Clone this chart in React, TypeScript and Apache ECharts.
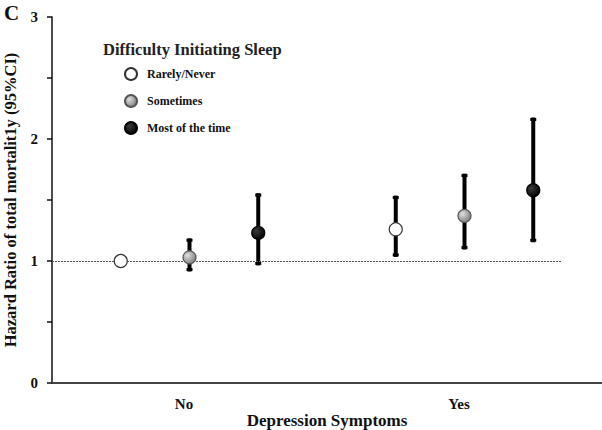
import React, { useEffect, useRef } from "react";
import * as echarts from "echarts";

const depression = ["No", "Yes"];
const sleepGroups = ["Rarely/Never", "Sometimes", "Most of the time"];
// hazard ratios per sleep group, [No, Yes]
const hrRarely = [1.0, 1.26];
const hrSometimes = [1.03, 1.37];
const hrMost = [1.23, 1.58];
const lowRarely = [null, 1.05];
const lowSometimes = [0.93, 1.11];
const lowMost = [0.98, 1.17];
const highRarely = [null, 1.52];
const highSometimes = [1.17, 1.7];
const highMost = [1.54, 2.16];
const yTicks = [0, 1, 2, 3];

const FONT = "'Liberation Serif', 'Times New Roman', serif";

export default function App() {
  const ref = useRef<HTMLDivElement>(null);
  useEffect(() => {
    if (!ref.current) return;
    const chart = echarts.init(ref.current, undefined, { renderer: "svg" });
    const hrs = [hrRarely, hrSometimes, hrMost];
    const lows = [lowRarely, lowSometimes, lowMost];
    const highs = [highRarely, highSometimes, highMost];
    const pos = (g: number, s: number) => g * 4 + s;

    const errData: any[] = [];
    depression.forEach((_, g) => {
      sleepGroups.forEach((_, s) => {
        const lo = lows[s][g];
        const hi = highs[s][g];
        if (lo != null && hi != null) errData.push([pos(g, s), lo, hi]);
      });
    });

    const fills: any[] = [
      "#ffffff",
      new echarts.graphic.RadialGradient(0.35, 0.35, 0.75, [
        { offset: 0, color: "#dedede" },
        { offset: 1, color: "#777777" },
      ]),
      new echarts.graphic.RadialGradient(0.35, 0.35, 0.75, [
        { offset: 0, color: "#3a3a3a" },
        { offset: 1, color: "#000000" },
      ]),
    ];
    const borders = ["#333333", "#555555", "#000000"];

    const scatterSeries = sleepGroups.map((name, s) => ({
      name,
      type: "scatter",
      symbol: "circle",
      symbolSize: 13,
      z: 5,
      itemStyle: { color: fills[s], borderColor: borders[s], borderWidth: 1.2, opacity: 1 },
      data: depression.map((_, g) => [pos(g, s), hrs[s][g]]),
    }));

    chart.setOption({
      animation: false,
      textStyle: { fontFamily: FONT },
      grid: {
        left: 52,
        top: 17,
        right: 0,
        bottom: 47,
        containLabel: false,
        outerBoundsMode: "none",
      },
      title: [
        {
          text: "C",
          left: -1,
          top: -3,
          textStyle: { fontFamily: FONT, fontWeight: "bold", fontSize: 21, color: "#111" },
        },
        {
          text: "Difficulty Initiating Sleep",
          left: 98,
          top: 36,
          textStyle: { fontFamily: FONT, fontWeight: "bold", fontSize: 16.5, color: "#222" },
        },
      ],
      legend: {
        data: sleepGroups,
        orient: "vertical",
        left: 119,
        top: 62,
        itemWidth: 12,
        itemHeight: 12,
        itemGap: 13,
        icon: "circle",
        textStyle: { fontFamily: FONT, fontWeight: "bold", fontSize: 12, color: "#111", padding: [0, 0, 0, 5] },
      },
      xAxis: {
        type: "value",
        min: -1,
        max: 7,
        interval: 1,
        name: "Depression Symptoms",
        nameLocation: "middle",
        nameGap: 29,
        nameMoveOverlap: false,
        nameTextStyle: { fontFamily: FONT, fontWeight: "bold", fontSize: 17, color: "#111" },
        axisLine: { show: true, onZero: false, lineStyle: { color: "#444", width: 2 } },
        axisTick: { show: false },
        splitLine: { show: false },
        axisLabel: {
          margin: 13,
          fontFamily: FONT,
          fontWeight: "bold",
          fontSize: 15,
          color: "#111",
          padding: [0, 11, 0, 0],
          formatter: (v: number) => {
            const g = (v - 1) / 4;
            return Number.isInteger(g) && depression[g] ? depression[g] : "";
          },
        },
      },
      yAxis: {
        type: "value",
        min: 0,
        max: 3,
        interval: 0.5,
        name: "Hazard Ratio of total mortalit1y (95%CI)",
        nameLocation: "middle",
        nameGap: 33,
        nameMoveOverlap: false,
        nameRotate: 90,
        nameTextStyle: { fontFamily: FONT, fontWeight: "bold", fontSize: 16.5, color: "#111" },
        axisLine: { show: true, onZero: false, lineStyle: { color: "#111", width: 1.5 } },
        axisTick: { show: true, length: 5, lineStyle: { color: "#111", width: 1.5 } },
        splitLine: { show: false },
        axisLabel: {
          margin: 14,
          fontFamily: FONT,
          fontWeight: "bold",
          fontSize: 15,
          color: "#111",
          formatter: (v: number) => (yTicks.includes(v) ? String(v) : ""),
        },
      },
      series: [
        {
          name: "CI",
          type: "custom",
          z: 3,
          renderItem: (params: any, api: any) => {
            const x = api.value(0);
            const lo = api.coord([x, api.value(1)]);
            const hi = api.coord([x, api.value(2)]);
            return {
              type: "group",
              children: [
                {
                  type: "line",
                  shape: { x1: lo[0], y1: lo[1], x2: hi[0], y2: hi[1] },
                  style: { stroke: "#000", lineWidth: 4, lineCap: "square" },
                },
                {
                  type: "line",
                  shape: { x1: lo[0] - 3, y1: lo[1], x2: lo[0] + 3, y2: lo[1] },
                  style: { stroke: "#000", lineWidth: 3 },
                },
                {
                  type: "line",
                  shape: { x1: hi[0] - 3, y1: hi[1], x2: hi[0] + 3, y2: hi[1] },
                  style: { stroke: "#000", lineWidth: 3 },
                },
              ],
            };
          },
          data: errData,
        },
        {
          name: "ref",
          type: "line",
          data: [],
          silent: true,
          markLine: {
            silent: true,
            symbol: "none",
            label: { show: false },
            lineStyle: { color: "#555", type: [2, 1], width: 1 },
            data: [[{ coord: [-1, 1] }, { coord: [6.42, 1] }]],
          },
        },
        ...scatterSeries,
      ],
    });
    return () => chart.dispose();
  }, []);
  return (
    <div
      ref={ref}
      style={{ position: "fixed", left: 0, top: 0, width: 602, height: 430, background: "#fff" }}
    />
  );
}
